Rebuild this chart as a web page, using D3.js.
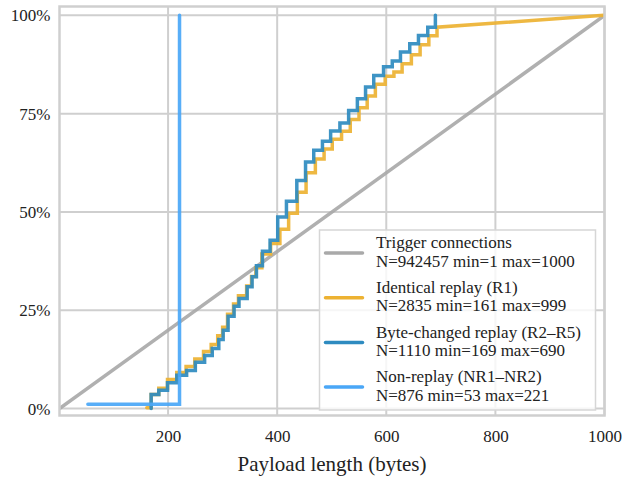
<!DOCTYPE html>
<html>
<head>
<meta charset="utf-8">
<script src="https://cdn.jsdelivr.net/npm/d3@7"></script>
<style>
  body { margin: 0; background: #fff; }
</style>
</head>
<body>
<div id="chart"></div>
<script>
// Trigger connections (grey): uniform 1..1000
const triggerLen = [1, 1000];
const triggerCdf = [0, 1];

// Identical replay (R1), orange staircase, then linear tail to 999
const r1Len = [161, 169, 183, 199, 216, 233, 249, 265, 279, 291, 300, 309, 320, 329, 344, 353, 361, 372, 388, 405, 421, 437, 453, 470, 486, 501, 518, 534, 550, 565, 580, 598, 614, 629, 646, 662, 678, 693];
const r1Cdf = [0.002, 0.036, 0.052, 0.074, 0.092, 0.107, 0.126, 0.145, 0.163, 0.185, 0.207, 0.240, 0.266, 0.287, 0.312, 0.336, 0.358, 0.393, 0.420, 0.456, 0.497, 0.550, 0.600, 0.635, 0.660, 0.685, 0.705, 0.735, 0.765, 0.795, 0.825, 0.845, 0.856, 0.877, 0.900, 0.925, 0.948, 0.970];
const r1Tail = [999, 1.0];

// Byte-changed replay (R2–R5), dark blue staircase
const r2Len = [169, 169, 183, 199, 216, 234, 250, 267, 281, 293, 301, 310, 321, 330, 345, 354, 362, 373, 387, 401, 417, 436, 452, 467, 483, 498, 515, 531, 547, 562, 577, 595, 611, 626, 643, 659, 676, 690];
const r2Cdf = [0, 0.036, 0.047, 0.066, 0.085, 0.097, 0.118, 0.135, 0.153, 0.176, 0.199, 0.235, 0.260, 0.280, 0.310, 0.335, 0.363, 0.400, 0.428, 0.487, 0.527, 0.580, 0.627, 0.657, 0.680, 0.706, 0.726, 0.758, 0.788, 0.818, 0.847, 0.869, 0.884, 0.907, 0.928, 0.949, 0.970, 1.0];

// Non-replay (NR1–NR2), light blue
const nrLen = [53, 221];
const nrCdf = [0.011, 1.0];

const seriesNames = ['Trigger connections', 'Identical replay (R1)', 'Byte-changed replay (R2\u2013R5)', 'Non-replay (NR1\u2013NR2)'];
const seriesStats = ['N=942457 min=1 max=1000', 'N=2835 min=161 max=999', 'N=1110 min=169 max=690', 'N=876 min=53 max=221'];
const seriesColors = ['#a9a9a9', '#edb232', '#2e8bc0', '#4aa7f7'];

const xTicks = [200, 400, 600, 800, 1000];
const yTicks = [0, 0.25, 0.5, 0.75, 1];

const FONT = "'Liberation Serif', 'DejaVu Serif', 'Times New Roman', serif";

const width = 624, height = 478;
const margin = {top: 6.5, right: 19.5, bottom: 62.5, left: 59.5};
const plotW = width - margin.left - margin.right;
const plotH = height - margin.top - margin.bottom;

const svg = d3.select('#chart').append('svg')
  .attr('width', width)
  .attr('height', height)
  .attr('font-family', FONT);

const x = d3.scaleLinear().domain([1, 1000]).range([margin.left, margin.left + plotW]);
const y = d3.scaleLinear().domain([-0.0175, 1.0225]).range([margin.top + plotH, margin.top]);

// grid
const grid = svg.append('g').attr('stroke', '#cfcfcf').attr('stroke-width', 2);
grid.selectAll('line.v').data(xTicks).enter().append('line')
  .attr('x1', d => x(d)).attr('x2', d => x(d))
  .attr('y1', margin.top).attr('y2', margin.top + plotH);
grid.selectAll('line.h').data(yTicks).enter().append('line')
  .attr('y1', d => y(d)).attr('y2', d => y(d))
  .attr('x1', margin.left).attr('x2', margin.left + plotW);

// axes (labels only, ticks hidden)
const xAxis = svg.append('g')
  .attr('transform', `translate(0,${margin.top + plotH})`)
  .call(d3.axisBottom(x).tickValues(xTicks).tickSize(0).tickPadding(14).tickFormat(d3.format('d')));
const yAxis = svg.append('g')
  .attr('transform', `translate(${margin.left},0)`)
  .call(d3.axisLeft(y).tickValues(yTicks).tickSize(0).tickPadding(9).tickFormat(d3.format('.0%')));
[xAxis, yAxis].forEach(g => {
  g.attr('font-family', FONT).attr('font-size', 17);
  g.select('.domain').remove();
  g.selectAll('text').attr('fill', '#222');
});

function stepPoints(len, cdf) {
  const pts = [];
  len.forEach((v, i) => {
    if (i > 0) pts.push([v, cdf[i - 1]]);
    pts.push([v, cdf[i]]);
  });
  return pts;
}

const line = d3.line().x(d => x(d[0])).y(d => y(d[1]));

const paths = [
  d3.zip(triggerLen, triggerCdf),
  stepPoints(r1Len, r1Cdf).concat([r1Tail]),
  stepPoints(r2Len, r2Cdf),
  stepPoints(nrLen, nrCdf)
];

svg.append('clipPath').attr('id', 'clip').append('rect')
  .attr('x', margin.left).attr('y', margin.top).attr('width', plotW).attr('height', plotH);

svg.append('g').attr('clip-path', 'url(#clip)')
  .selectAll('path.series').data(paths).enter().append('path')
  .attr('class', 'series')
  .attr('d', line)
  .attr('fill', 'none')
  .attr('stroke', (d, i) => seriesColors[i])
  .attr('stroke-width', 3.5)
  .attr('stroke-opacity', 0.92)
  .attr('stroke-linejoin', 'miter')
  .attr('stroke-linecap', 'round');

// frame
svg.append('rect')
  .attr('x', margin.left).attr('y', margin.top)
  .attr('width', plotW).attr('height', plotH)
  .attr('fill', 'none').attr('stroke', '#cfcfcf').attr('stroke-width', 2.5);

// x label
svg.append('text')
  .attr('x', margin.left + plotW / 2)
  .attr('y', 471)
  .attr('text-anchor', 'middle')
  .attr('font-size', 21)
  .attr('fill', '#222')
  .text('Payload length (bytes)');

// legend
const legend = svg.append('g').attr('transform', 'translate(319.5,230)');
legend.append('rect')
  .attr('width', 276).attr('height', 180)
  .attr('fill', '#fff').attr('fill-opacity', 0.8)
  .attr('stroke', '#d6d6d6').attr('stroke-width', 1.5);
const items = legend.selectAll('g.item').data(seriesNames).enter().append('g')
  .attr('class', 'item')
  .attr('transform', (d, i) => `translate(0,${i * 44.7})`);
items.append('line')
  .attr('x1', 6).attr('x2', 43)
  .attr('y1', 23).attr('y2', 23)
  .attr('stroke', (d, i) => seriesColors[i])
  .attr('stroke-width', 3.5)
  .attr('stroke-linecap', 'round');
items.append('text')
  .attr('x', 56.5).attr('y', 18.3)
  .attr('font-size', 17)
  .attr('fill', '#222')
  .text(d => d);
items.append('text')
  .attr('x', 56.5).attr('y', 36.6)
  .attr('font-size', 17)
  .attr('fill', '#222')
  .text((d, i) => seriesStats[i]);
</script>
</body>
</html>
